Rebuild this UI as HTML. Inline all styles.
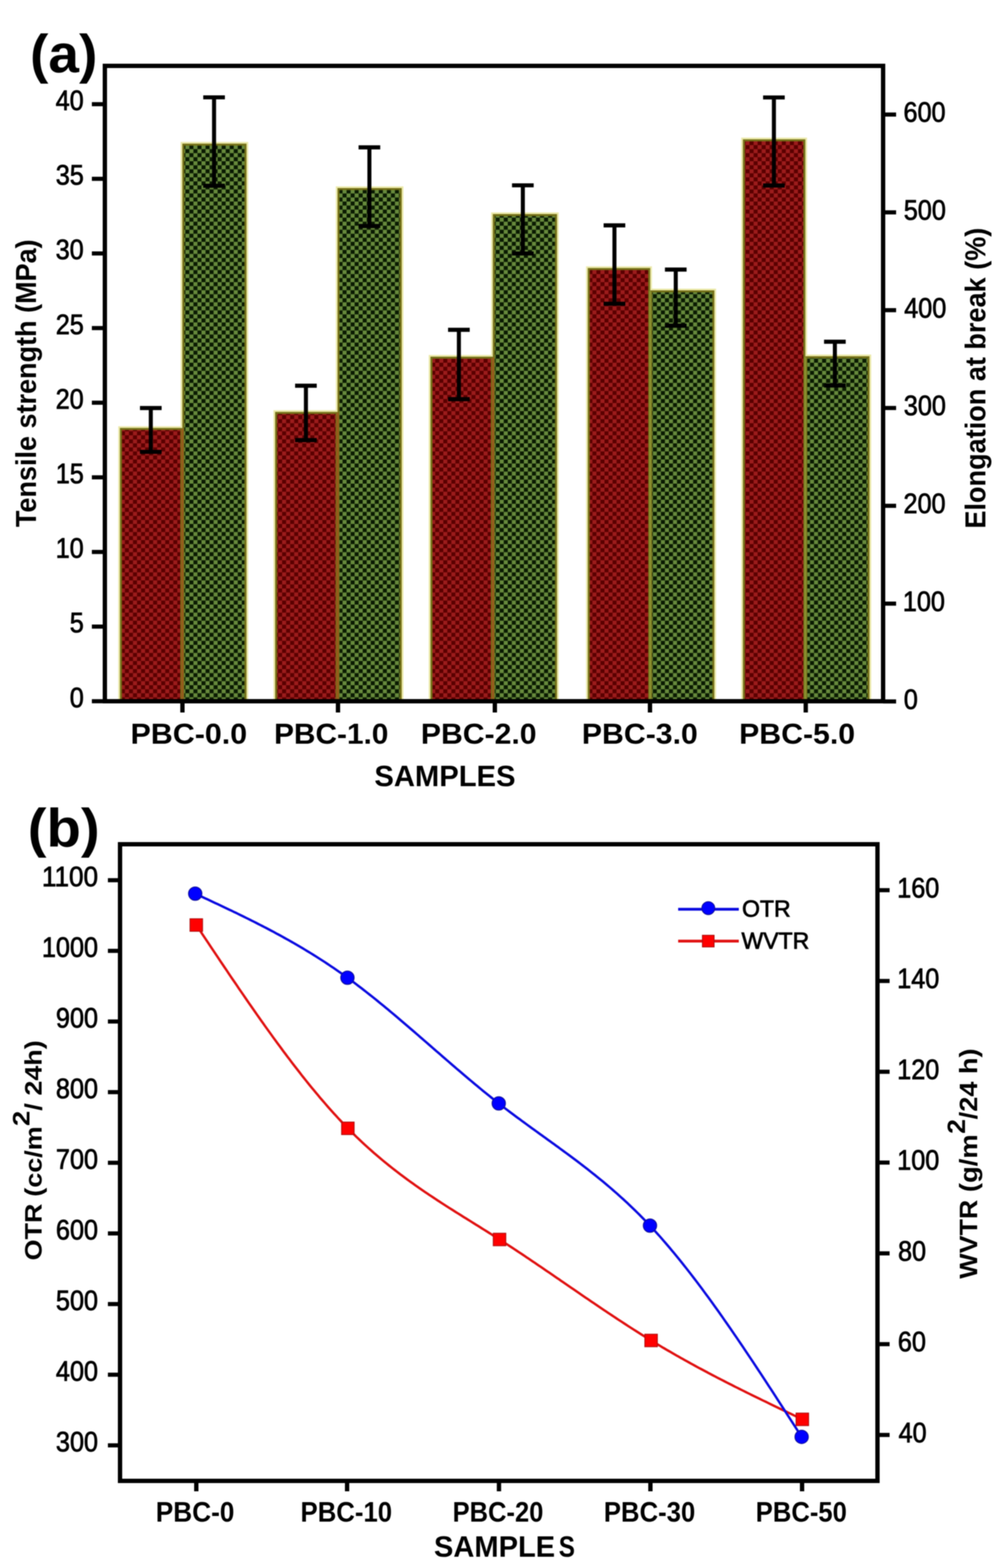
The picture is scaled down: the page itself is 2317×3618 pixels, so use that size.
<!DOCTYPE html><html><head><meta charset="utf-8"><style>html,body{margin:0;padding:0;background:#fff;overflow:hidden}svg{display:block;filter:blur(1.1px)}text{font-family:'Liberation Sans', Arial, sans-serif;fill:#000}</style></head><body>
<svg width="2317" height="3618" viewBox="0 0 2317 3618">
<defs>
<pattern id="pr" patternUnits="userSpaceOnUse" width="18.6" height="18.6"><rect width="18.6" height="18.6" fill="#5a0000"/><rect width="9.3" height="9.3" fill="#9c1c1c"/><rect x="9.3" y="9.3" width="9.3" height="9.3" fill="#9c1c1c"/></pattern>
<pattern id="pg" patternUnits="userSpaceOnUse" width="18.6" height="18.6"><rect width="18.6" height="18.6" fill="#0a1a02"/><rect width="9.3" height="9.3" fill="#678a3c"/><rect x="9.3" y="9.3" width="9.3" height="9.3" fill="#678a3c"/></pattern>
</defs>
<rect width="2317" height="3618" fill="#fff"/>
<rect x="272.8" y="983.5" width="152" height="634.5" fill="#ebe9aa"/>
<rect x="416.8" y="327.5" width="156" height="1290.5" fill="#ebe9aa"/>
<rect x="631" y="946.5" width="152" height="671.5" fill="#ebe9aa"/>
<rect x="775" y="430" width="156" height="1188" fill="#ebe9aa"/>
<rect x="989.4" y="819" width="152" height="799" fill="#ebe9aa"/>
<rect x="1133.4" y="490" width="156" height="1128" fill="#ebe9aa"/>
<rect x="1352.5" y="614.5" width="152" height="1003.5" fill="#ebe9aa"/>
<rect x="1496.5" y="666" width="156" height="952" fill="#ebe9aa"/>
<rect x="1710.5" y="317.5" width="152" height="1300.5" fill="#ebe9aa"/>
<rect x="1854.5" y="818" width="156" height="800" fill="#ebe9aa"/>
<rect x="279.1" y="989.8" width="139.4" height="628.2" fill="url(#pr)" stroke="#747018" stroke-width="4.6"/>
<rect x="423.1" y="333.8" width="143.4" height="1284.2" fill="url(#pg)" stroke="#747018" stroke-width="4.6"/>
<rect x="637.3" y="952.8" width="139.4" height="665.2" fill="url(#pr)" stroke="#747018" stroke-width="4.6"/>
<rect x="781.3" y="436.3" width="143.4" height="1181.7" fill="url(#pg)" stroke="#747018" stroke-width="4.6"/>
<rect x="995.7" y="825.3" width="139.4" height="792.7" fill="url(#pr)" stroke="#747018" stroke-width="4.6"/>
<rect x="1139.7" y="496.3" width="143.4" height="1121.7" fill="url(#pg)" stroke="#747018" stroke-width="4.6"/>
<rect x="1358.8" y="620.8" width="139.4" height="997.2" fill="url(#pr)" stroke="#747018" stroke-width="4.6"/>
<rect x="1502.8" y="672.3" width="143.4" height="945.7" fill="url(#pg)" stroke="#747018" stroke-width="4.6"/>
<rect x="1716.8" y="323.8" width="139.4" height="1294.2" fill="url(#pr)" stroke="#747018" stroke-width="4.6"/>
<rect x="1860.8" y="824.3" width="143.4" height="793.7" fill="url(#pg)" stroke="#747018" stroke-width="4.6"/>
<rect x="418.4" y="989.5" width="4.8" height="628.5" fill="#985a1c"/>
<rect x="776.6" y="952.5" width="4.8" height="665.5" fill="#985a1c"/>
<rect x="1135" y="825" width="4.8" height="793" fill="#985a1c"/>
<rect x="1498.1" y="672" width="4.8" height="946" fill="#8a9030"/>
<rect x="1856.1" y="824" width="4.8" height="794" fill="#8a9030"/>
<path d="M348 941.5V1042.6M323 941.5H373M323 1042.6H373" stroke="#000" stroke-width="9.3" fill="none"/>
<path d="M706 890V1015.5M681 890H731M681 1015.5H731" stroke="#000" stroke-width="9.3" fill="none"/>
<path d="M1059 761V921M1034 761H1084M1034 921H1084" stroke="#000" stroke-width="9.3" fill="none"/>
<path d="M1418 520V700.8M1393 520H1443M1393 700.8H1443" stroke="#000" stroke-width="9.3" fill="none"/>
<path d="M1786 224.8V428M1761 224.8H1811M1761 428H1811" stroke="#000" stroke-width="9.3" fill="none"/>
<path d="M494 224.6V428.6M469 224.6H519M469 428.6H519" stroke="#000" stroke-width="9.3" fill="none"/>
<path d="M852.5 340V521.5M827.5 340H877.5M827.5 521.5H877.5" stroke="#000" stroke-width="9.3" fill="none"/>
<path d="M1206.6 427.6V584.8M1181.6 427.6H1231.6M1181.6 584.8H1231.6" stroke="#000" stroke-width="9.3" fill="none"/>
<path d="M1559.5 622V751.5M1534.5 622H1584.5M1534.5 751.5H1584.5" stroke="#000" stroke-width="9.3" fill="none"/>
<path d="M1926.7 788.5V889.5M1901.7 788.5H1951.7M1901.7 889.5H1951.7" stroke="#000" stroke-width="9.3" fill="none"/>
<rect x="242" y="152" width="1796" height="1466" fill="none" stroke="#000" stroke-width="10"/>
<path d="M212 1618H242" stroke="#000" stroke-width="9.5"/>
<text x="160.88" y="1631.5" font-size="64" textLength="32.39" lengthAdjust="spacingAndGlyphs" stroke="#000" stroke-width="1.6">0</text>
<path d="M212 1445.8H242" stroke="#000" stroke-width="9.5"/>
<text x="161.06" y="1459.3" font-size="64" textLength="32.39" lengthAdjust="spacingAndGlyphs" stroke="#000" stroke-width="1.6">5</text>
<path d="M212 1273.6H242" stroke="#000" stroke-width="9.5"/>
<text x="128.49" y="1287.1" font-size="64" textLength="64.78" lengthAdjust="spacingAndGlyphs" stroke="#000" stroke-width="1.6">10</text>
<path d="M212 1101.4H242" stroke="#000" stroke-width="9.5"/>
<text x="128.66" y="1114.9" font-size="64" textLength="64.78" lengthAdjust="spacingAndGlyphs" stroke="#000" stroke-width="1.6">15</text>
<path d="M212 929.2H242" stroke="#000" stroke-width="9.5"/>
<text x="128.49" y="942.7" font-size="64" textLength="64.78" lengthAdjust="spacingAndGlyphs" stroke="#000" stroke-width="1.6">20</text>
<path d="M212 757H242" stroke="#000" stroke-width="9.5"/>
<text x="128.67" y="770.5" font-size="64" textLength="64.78" lengthAdjust="spacingAndGlyphs" stroke="#000" stroke-width="1.6">25</text>
<path d="M212 584.8H242" stroke="#000" stroke-width="9.5"/>
<text x="128.49" y="598.3" font-size="64" textLength="64.78" lengthAdjust="spacingAndGlyphs" stroke="#000" stroke-width="1.6">30</text>
<path d="M212 412.6H242" stroke="#000" stroke-width="9.5"/>
<text x="128.67" y="426.1" font-size="64" textLength="64.78" lengthAdjust="spacingAndGlyphs" stroke="#000" stroke-width="1.6">35</text>
<path d="M212 240.4H242" stroke="#000" stroke-width="9.5"/>
<text x="128.49" y="253.9" font-size="64" textLength="64.78" lengthAdjust="spacingAndGlyphs" stroke="#000" stroke-width="1.6">40</text>
<path d="M2038 1618.5H2068" stroke="#000" stroke-width="9.5"/>
<text x="2085.72" y="1635.5" font-size="64" textLength="32.39" lengthAdjust="spacingAndGlyphs" stroke="#000" stroke-width="1.6">0</text>
<path d="M2038 1392.8H2068" stroke="#000" stroke-width="9.5"/>
<text x="2083.56" y="1409.8" font-size="64" textLength="97.17" lengthAdjust="spacingAndGlyphs" stroke="#000" stroke-width="1.6">100</text>
<path d="M2038 1167.1H2068" stroke="#000" stroke-width="9.5"/>
<text x="2085.07" y="1184.1" font-size="64" textLength="97.17" lengthAdjust="spacingAndGlyphs" stroke="#000" stroke-width="1.6">200</text>
<path d="M2038 941.4H2068" stroke="#000" stroke-width="9.5"/>
<text x="2085.78" y="958.4" font-size="64" textLength="97.17" lengthAdjust="spacingAndGlyphs" stroke="#000" stroke-width="1.6">300</text>
<path d="M2038 715.7H2068" stroke="#000" stroke-width="9.5"/>
<text x="2086.66" y="732.7" font-size="64" textLength="97.17" lengthAdjust="spacingAndGlyphs" stroke="#000" stroke-width="1.6">400</text>
<path d="M2038 490H2068" stroke="#000" stroke-width="9.5"/>
<text x="2085.67" y="507" font-size="64" textLength="97.17" lengthAdjust="spacingAndGlyphs" stroke="#000" stroke-width="1.6">500</text>
<path d="M2038 264.3H2068" stroke="#000" stroke-width="9.5"/>
<text x="2085.04" y="281.3" font-size="64" textLength="97.17" lengthAdjust="spacingAndGlyphs" stroke="#000" stroke-width="1.6">600</text>
<path d="M421 1618V1644" stroke="#000" stroke-width="10"/>
<path d="M780 1618V1644" stroke="#000" stroke-width="10"/>
<path d="M1142 1618V1644" stroke="#000" stroke-width="10"/>
<path d="M1500 1618V1644" stroke="#000" stroke-width="10"/>
<path d="M1859.5 1618V1644" stroke="#000" stroke-width="10"/>
<text x="301.31" y="1716" font-size="66" font-weight="bold" textLength="269.07" lengthAdjust="spacingAndGlyphs">PBC-0.0</text>
<text x="632.4" y="1716" font-size="66" font-weight="bold" textLength="263.93" lengthAdjust="spacingAndGlyphs">PBC-1.0</text>
<text x="971.34" y="1716" font-size="66" font-weight="bold" textLength="267.01" lengthAdjust="spacingAndGlyphs">PBC-2.0</text>
<text x="1342.83" y="1716" font-size="66" font-weight="bold" textLength="267.53" lengthAdjust="spacingAndGlyphs">PBC-3.0</text>
<text x="1705.83" y="1716" font-size="66" font-weight="bold" textLength="267.53" lengthAdjust="spacingAndGlyphs">PBC-5.0</text>
<text x="864.06" y="1814" font-size="68" font-weight="bold" textLength="325.57" lengthAdjust="spacingAndGlyphs">SAMPLES</text>
<g transform="translate(83 1215.5) rotate(-90)"><text x="-0.7" y="0" font-size="66" font-weight="bold" textLength="663.78" lengthAdjust="spacingAndGlyphs">Tensile strength (MPa)</text></g>
<g transform="translate(2274 1215.5) rotate(-90)"><text x="-4.18" y="0" font-size="66" font-weight="bold" textLength="694.29" lengthAdjust="spacingAndGlyphs">Elongation at break (%)</text></g>
<text x="69.16" y="167" font-size="125" font-weight="bold" textLength="155.69" lengthAdjust="spacingAndGlyphs">(a)</text>
<rect x="277" y="1948" width="1748" height="1469" fill="none" stroke="#000" stroke-width="10"/>
<path d="M249 3335H277" stroke="#000" stroke-width="9.5"/>
<text x="129.1" y="3349" font-size="64" textLength="97.17" lengthAdjust="spacingAndGlyphs" stroke="#000" stroke-width="1.6">300</text>
<path d="M249 3172H277" stroke="#000" stroke-width="9.5"/>
<text x="129.1" y="3186" font-size="64" textLength="97.17" lengthAdjust="spacingAndGlyphs" stroke="#000" stroke-width="1.6">400</text>
<path d="M249 3009H277" stroke="#000" stroke-width="9.5"/>
<text x="129.1" y="3023" font-size="64" textLength="97.17" lengthAdjust="spacingAndGlyphs" stroke="#000" stroke-width="1.6">500</text>
<path d="M249 2846H277" stroke="#000" stroke-width="9.5"/>
<text x="129.1" y="2860" font-size="64" textLength="97.17" lengthAdjust="spacingAndGlyphs" stroke="#000" stroke-width="1.6">600</text>
<path d="M249 2683H277" stroke="#000" stroke-width="9.5"/>
<text x="129.1" y="2697" font-size="64" textLength="97.17" lengthAdjust="spacingAndGlyphs" stroke="#000" stroke-width="1.6">700</text>
<path d="M249 2520H277" stroke="#000" stroke-width="9.5"/>
<text x="129.1" y="2534" font-size="64" textLength="97.17" lengthAdjust="spacingAndGlyphs" stroke="#000" stroke-width="1.6">800</text>
<path d="M249 2357H277" stroke="#000" stroke-width="9.5"/>
<text x="129.1" y="2371" font-size="64" textLength="97.17" lengthAdjust="spacingAndGlyphs" stroke="#000" stroke-width="1.6">900</text>
<path d="M249 2194H277" stroke="#000" stroke-width="9.5"/>
<text x="96.71" y="2208" font-size="64" textLength="129.56" lengthAdjust="spacingAndGlyphs" stroke="#000" stroke-width="1.6">1000</text>
<path d="M249 2031H277" stroke="#000" stroke-width="9.5"/>
<text x="96.71" y="2045" font-size="64" textLength="129.56" lengthAdjust="spacingAndGlyphs" stroke="#000" stroke-width="1.6">1100</text>
<path d="M2025 3311H2053" stroke="#000" stroke-width="9.5"/>
<text x="2073.66" y="3327.5" font-size="64" textLength="64.78" lengthAdjust="spacingAndGlyphs" stroke="#000" stroke-width="1.6">40</text>
<path d="M2025 3101.5H2053" stroke="#000" stroke-width="9.5"/>
<text x="2072.04" y="3118" font-size="64" textLength="64.78" lengthAdjust="spacingAndGlyphs" stroke="#000" stroke-width="1.6">60</text>
<path d="M2025 2892H2053" stroke="#000" stroke-width="9.5"/>
<text x="2072.47" y="2908.5" font-size="64" textLength="64.78" lengthAdjust="spacingAndGlyphs" stroke="#000" stroke-width="1.6">80</text>
<path d="M2025 2682.5H2053" stroke="#000" stroke-width="9.5"/>
<text x="2070.56" y="2699" font-size="64" textLength="97.17" lengthAdjust="spacingAndGlyphs" stroke="#000" stroke-width="1.6">100</text>
<path d="M2025 2473H2053" stroke="#000" stroke-width="9.5"/>
<text x="2070.56" y="2489.5" font-size="64" textLength="97.17" lengthAdjust="spacingAndGlyphs" stroke="#000" stroke-width="1.6">120</text>
<path d="M2025 2263.5H2053" stroke="#000" stroke-width="9.5"/>
<text x="2070.56" y="2280" font-size="64" textLength="97.17" lengthAdjust="spacingAndGlyphs" stroke="#000" stroke-width="1.6">140</text>
<path d="M2025 2054H2053" stroke="#000" stroke-width="9.5"/>
<text x="2070.56" y="2070.5" font-size="64" textLength="97.17" lengthAdjust="spacingAndGlyphs" stroke="#000" stroke-width="1.6">160</text>
<path d="M453 3417V3441" stroke="#000" stroke-width="10"/>
<path d="M801 3417V3441" stroke="#000" stroke-width="10"/>
<path d="M1151.5 3417V3441" stroke="#000" stroke-width="10"/>
<path d="M1501 3417V3441" stroke="#000" stroke-width="10"/>
<path d="M1851 3417V3441" stroke="#000" stroke-width="10"/>
<text x="359.45" y="3511" font-size="64" font-weight="bold" textLength="181.53" lengthAdjust="spacingAndGlyphs">PBC-0</text>
<text x="693.52" y="3511" font-size="64" font-weight="bold" textLength="211.41" lengthAdjust="spacingAndGlyphs">PBC-10</text>
<text x="1044.56" y="3511" font-size="64" font-weight="bold" textLength="209.35" lengthAdjust="spacingAndGlyphs">PBC-20</text>
<text x="1393.53" y="3511" font-size="64" font-weight="bold" textLength="210.9" lengthAdjust="spacingAndGlyphs">PBC-30</text>
<text x="1744.04" y="3511" font-size="64" font-weight="bold" textLength="210.38" lengthAdjust="spacingAndGlyphs">PBC-50</text>
<text x="1001.57" y="3592" font-size="68" font-weight="bold" textLength="279.55" lengthAdjust="spacingAndGlyphs">SAMPLE</text>
<text x="1289.39" y="3592" font-size="68" font-weight="bold" textLength="37.3" lengthAdjust="spacingAndGlyphs">S</text>
<text x="64.03" y="1953" font-size="125" font-weight="bold" textLength="165.95" lengthAdjust="spacingAndGlyphs">(b)</text>
<g transform="translate(96.3 2907) rotate(-90)">
<text x="-1.35" y="0" font-size="56" font-weight="bold" textLength="131.12" lengthAdjust="spacingAndGlyphs">OTR</text>
<text x="145.81" y="0" font-size="56" font-weight="bold" textLength="162.24" lengthAdjust="spacingAndGlyphs">(cc/m</text>
<text x="308.8" y="-28.5" font-size="56" font-weight="bold" textLength="35.23" lengthAdjust="spacingAndGlyphs">2</text>
<text x="344.39" y="0" font-size="56" font-weight="bold" textLength="162.2" lengthAdjust="spacingAndGlyphs">/ 24h)</text>
</g>
<g transform="translate(2255 2952) rotate(-90)">
<text x="1.44" y="0" font-size="58" font-weight="bold" textLength="182.33" lengthAdjust="spacingAndGlyphs">WVTR</text>
<text x="201.35" y="0" font-size="58" font-weight="bold" textLength="133.36" lengthAdjust="spacingAndGlyphs">(g/m</text>
<text x="335.68" y="-28.5" font-size="58" font-weight="bold" textLength="34.08" lengthAdjust="spacingAndGlyphs">2</text>
<text x="369.39" y="0" font-size="58" font-weight="bold" textLength="163.53" lengthAdjust="spacingAndGlyphs">/24 h)</text>
</g>
<path d="M453.0 2134.4 L457.7 2141.4 L462.4 2148.4 L467.0 2155.5 L471.7 2162.5 L476.4 2169.5 L481.1 2176.5 L485.7 2183.5 L490.4 2190.5 L495.1 2197.5 L499.8 2204.5 L504.5 2211.5 L509.1 2218.5 L513.8 2225.4 L518.5 2232.4 L523.2 2239.3 L527.8 2246.2 L532.5 2253.2 L537.2 2260.1 L541.9 2266.9 L546.6 2273.8 L551.2 2280.7 L555.9 2287.5 L560.6 2294.3 L565.3 2301.1 L569.9 2307.9 L574.6 2314.7 L579.3 2321.4 L584.0 2328.1 L588.7 2334.8 L593.3 2341.5 L598.0 2348.2 L602.7 2354.8 L607.4 2361.4 L612.0 2368.0 L616.7 2374.5 L621.4 2381.0 L626.1 2387.5 L630.7 2394.0 L635.4 2400.4 L640.1 2406.8 L644.8 2413.1 L649.5 2419.5 L654.1 2425.8 L658.8 2432.0 L663.5 2438.3 L668.2 2444.4 L672.8 2450.6 L677.5 2456.7 L682.2 2462.8 L686.9 2468.8 L691.6 2474.8 L696.2 2480.8 L700.9 2486.7 L705.6 2492.6 L710.3 2498.4 L714.9 2504.2 L719.6 2509.9 L724.3 2515.6 L729.0 2521.2 L733.7 2526.8 L738.3 2532.4 L743.0 2537.9 L747.7 2543.3 L752.4 2548.7 L757.0 2554.1 L761.7 2559.4 L766.4 2564.6 L771.1 2569.8 L775.8 2574.9 L780.4 2580.0 L785.1 2585.0 L789.8 2590.0 L794.5 2594.9 L799.1 2599.8 L803.8 2604.5 L808.5 2609.3 L813.2 2613.9 L817.9 2618.5 L822.5 2623.1 L827.2 2627.6 L831.9 2632.0 L836.6 2636.4 L841.2 2640.8 L845.9 2645.0 L850.6 2649.3 L855.3 2653.4 L860.0 2657.6 L864.6 2661.7 L869.3 2665.7 L874.0 2669.7 L878.7 2673.6 L883.3 2677.5 L888.0 2681.4 L892.7 2685.2 L897.4 2689.0 L902.0 2692.7 L906.7 2696.4 L911.4 2700.0 L916.1 2703.6 L920.8 2707.2 L925.4 2710.8 L930.1 2714.3 L934.8 2717.8 L939.5 2721.2 L944.1 2724.6 L948.8 2728.0 L953.5 2731.3 L958.2 2734.7 L962.9 2737.9 L967.5 2741.2 L972.2 2744.5 L976.9 2747.7 L981.6 2750.9 L986.2 2754.0 L990.9 2757.2 L995.6 2760.3 L1000.3 2763.4 L1005.0 2766.5 L1009.6 2769.6 L1014.3 2772.6 L1019.0 2775.7 L1023.7 2778.7 L1028.3 2781.7 L1033.0 2784.7 L1037.7 2787.7 L1042.4 2790.6 L1047.1 2793.6 L1051.7 2796.6 L1056.4 2799.5 L1061.1 2802.4 L1065.8 2805.4 L1070.4 2808.3 L1075.1 2811.2 L1079.8 2814.1 L1084.5 2817.0 L1089.2 2820.0 L1093.8 2822.9 L1098.5 2825.8 L1103.2 2828.7 L1107.9 2831.6 L1112.5 2834.6 L1117.2 2837.5 L1121.9 2840.4 L1126.6 2843.4 L1131.3 2846.3 L1135.9 2849.3 L1140.6 2852.2 L1145.3 2855.2 L1150.0 2858.2 L1154.6 2861.2 L1159.3 2864.2 L1164.0 2867.2 L1168.7 2870.3 L1173.3 2873.3 L1178.0 2876.4 L1182.7 2879.4 L1187.4 2882.5 L1192.1 2885.6 L1196.7 2888.7 L1201.4 2891.8 L1206.1 2894.9 L1210.8 2898.1 L1215.4 2901.2 L1220.1 2904.3 L1224.8 2907.5 L1229.5 2910.7 L1234.2 2913.8 L1238.8 2917.0 L1243.5 2920.2 L1248.2 2923.3 L1252.9 2926.5 L1257.5 2929.7 L1262.2 2932.9 L1266.9 2936.1 L1271.6 2939.3 L1276.3 2942.5 L1280.9 2945.7 L1285.6 2948.9 L1290.3 2952.1 L1295.0 2955.4 L1299.6 2958.6 L1304.3 2961.8 L1309.0 2965.0 L1313.7 2968.2 L1318.4 2971.4 L1323.0 2974.6 L1327.7 2977.8 L1332.4 2981.0 L1337.1 2984.3 L1341.7 2987.5 L1346.4 2990.7 L1351.1 2993.9 L1355.8 2997.0 L1360.5 3000.2 L1365.1 3003.4 L1369.8 3006.6 L1374.5 3009.8 L1379.2 3012.9 L1383.8 3016.1 L1388.5 3019.2 L1393.2 3022.4 L1397.9 3025.5 L1402.6 3028.7 L1407.2 3031.8 L1411.9 3034.9 L1416.6 3038.0 L1421.3 3041.1 L1425.9 3044.2 L1430.6 3047.3 L1435.3 3050.3 L1440.0 3053.4 L1444.6 3056.4 L1449.3 3059.5 L1454.0 3062.5 L1458.7 3065.5 L1463.4 3068.5 L1468.0 3071.4 L1472.7 3074.4 L1477.4 3077.4 L1482.1 3080.3 L1486.7 3083.2 L1491.4 3086.1 L1496.1 3089.0 L1500.8 3091.9 L1505.5 3094.7 L1510.1 3097.6 L1514.8 3100.4 L1519.5 3103.2 L1524.2 3106.0 L1528.8 3108.8 L1533.5 3111.5 L1538.2 3114.3 L1542.9 3117.0 L1547.6 3119.7 L1552.2 3122.4 L1556.9 3125.1 L1561.6 3127.8 L1566.3 3130.4 L1570.9 3133.1 L1575.6 3135.7 L1580.3 3138.3 L1585.0 3140.9 L1589.7 3143.5 L1594.3 3146.1 L1599.0 3148.7 L1603.7 3151.2 L1608.4 3153.8 L1613.0 3156.3 L1617.7 3158.8 L1622.4 3161.3 L1627.1 3163.8 L1631.8 3166.3 L1636.4 3168.8 L1641.1 3171.2 L1645.8 3173.7 L1650.5 3176.1 L1655.1 3178.6 L1659.8 3181.0 L1664.5 3183.4 L1669.2 3185.8 L1673.9 3188.2 L1678.5 3190.6 L1683.2 3193.0 L1687.9 3195.3 L1692.6 3197.7 L1697.2 3200.1 L1701.9 3202.4 L1706.6 3204.8 L1711.3 3207.1 L1715.9 3209.4 L1720.6 3211.7 L1725.3 3214.1 L1730.0 3216.4 L1734.7 3218.7 L1739.3 3221.0 L1744.0 3223.3 L1748.7 3225.5 L1753.4 3227.8 L1758.0 3230.1 L1762.7 3232.4 L1767.4 3234.6 L1772.1 3236.9 L1776.8 3239.2 L1781.4 3241.4 L1786.1 3243.7 L1790.8 3245.9 L1795.5 3248.2 L1800.1 3250.4 L1804.8 3252.7 L1809.5 3254.9 L1814.2 3257.1 L1818.9 3259.4 L1823.5 3261.6 L1828.2 3263.8 L1832.9 3266.1 L1837.6 3268.3 L1842.2 3270.5 L1846.9 3272.8 L1851.6 3275.0" fill="none" stroke="#e01010" stroke-width="5.5" stroke-linejoin="round"/>
<path d="M450.5 2062.0 L455.2 2064.2 L459.9 2066.4 L464.5 2068.5 L469.2 2070.7 L473.9 2072.9 L478.6 2075.1 L483.3 2077.3 L487.9 2079.5 L492.6 2081.7 L497.3 2083.9 L502.0 2086.1 L506.7 2088.3 L511.3 2090.5 L516.0 2092.7 L520.7 2094.9 L525.4 2097.2 L530.1 2099.4 L534.8 2101.6 L539.4 2103.9 L544.1 2106.1 L548.8 2108.4 L553.5 2110.7 L558.2 2113.0 L562.8 2115.3 L567.5 2117.6 L572.2 2119.9 L576.9 2122.2 L581.6 2124.6 L586.2 2126.9 L590.9 2129.3 L595.6 2131.7 L600.3 2134.1 L605.0 2136.5 L609.6 2138.9 L614.3 2141.3 L619.0 2143.8 L623.7 2146.3 L628.4 2148.7 L633.0 2151.2 L637.7 2153.8 L642.4 2156.3 L647.1 2158.8 L651.8 2161.4 L656.4 2164.0 L661.1 2166.6 L665.8 2169.2 L670.5 2171.9 L675.2 2174.5 L679.8 2177.2 L684.5 2179.9 L689.2 2182.7 L693.9 2185.4 L698.6 2188.2 L703.3 2191.0 L707.9 2193.8 L712.6 2196.7 L717.3 2199.5 L722.0 2202.4 L726.7 2205.3 L731.3 2208.3 L736.0 2211.3 L740.7 2214.3 L745.4 2217.3 L750.1 2220.3 L754.7 2223.4 L759.4 2226.5 L764.1 2229.7 L768.8 2232.8 L773.5 2236.0 L778.1 2239.2 L782.8 2242.5 L787.5 2245.8 L792.2 2249.1 L796.9 2252.4 L801.5 2255.8 L806.2 2259.2 L810.9 2262.7 L815.6 2266.1 L820.3 2269.6 L824.9 2273.2 L829.6 2276.7 L834.3 2280.3 L839.0 2284.0 L843.7 2287.6 L848.4 2291.3 L853.0 2295.0 L857.7 2298.7 L862.4 2302.4 L867.1 2306.2 L871.8 2310.0 L876.4 2313.8 L881.1 2317.6 L885.8 2321.4 L890.5 2325.3 L895.2 2329.2 L899.8 2333.1 L904.5 2337.0 L909.2 2340.9 L913.9 2344.9 L918.6 2348.8 L923.2 2352.8 L927.9 2356.8 L932.6 2360.8 L937.3 2364.8 L942.0 2368.8 L946.6 2372.8 L951.3 2376.9 L956.0 2380.9 L960.7 2385.0 L965.4 2389.0 L970.0 2393.1 L974.7 2397.1 L979.4 2401.2 L984.1 2405.3 L988.8 2409.4 L993.4 2413.4 L998.1 2417.5 L1002.8 2421.6 L1007.5 2425.7 L1012.2 2429.7 L1016.9 2433.8 L1021.5 2437.9 L1026.2 2441.9 L1030.9 2446.0 L1035.6 2450.0 L1040.3 2454.1 L1044.9 2458.1 L1049.6 2462.1 L1054.3 2466.2 L1059.0 2470.2 L1063.7 2474.2 L1068.3 2478.2 L1073.0 2482.2 L1077.7 2486.1 L1082.4 2490.1 L1087.1 2494.0 L1091.7 2497.9 L1096.4 2501.8 L1101.1 2505.7 L1105.8 2509.6 L1110.5 2513.5 L1115.1 2517.3 L1119.8 2521.1 L1124.5 2524.9 L1129.2 2528.7 L1133.9 2532.5 L1138.5 2536.2 L1143.2 2539.9 L1147.9 2543.6 L1152.6 2547.2 L1157.3 2550.9 L1162.0 2554.5 L1166.6 2558.1 L1171.3 2561.6 L1176.0 2565.2 L1180.7 2568.7 L1185.4 2572.2 L1190.0 2575.7 L1194.7 2579.2 L1199.4 2582.6 L1204.1 2586.1 L1208.8 2589.5 L1213.4 2592.9 L1218.1 2596.4 L1222.8 2599.8 L1227.5 2603.2 L1232.2 2606.5 L1236.8 2609.9 L1241.5 2613.3 L1246.2 2616.7 L1250.9 2620.1 L1255.6 2623.4 L1260.2 2626.8 L1264.9 2630.2 L1269.6 2633.6 L1274.3 2637.0 L1279.0 2640.3 L1283.6 2643.7 L1288.3 2647.1 L1293.0 2650.6 L1297.7 2654.0 L1302.4 2657.4 L1307.1 2660.9 L1311.7 2664.3 L1316.4 2667.8 L1321.1 2671.3 L1325.8 2674.8 L1330.5 2678.3 L1335.1 2681.8 L1339.8 2685.4 L1344.5 2689.0 L1349.2 2692.6 L1353.9 2696.2 L1358.5 2699.9 L1363.2 2703.6 L1367.9 2707.3 L1372.6 2711.0 L1377.3 2714.8 L1381.9 2718.6 L1386.6 2722.4 L1391.3 2726.2 L1396.0 2730.1 L1400.7 2734.1 L1405.3 2738.0 L1410.0 2742.0 L1414.7 2746.1 L1419.4 2750.2 L1424.1 2754.3 L1428.7 2758.5 L1433.4 2762.7 L1438.1 2766.9 L1442.8 2771.2 L1447.5 2775.6 L1452.1 2780.0 L1456.8 2784.4 L1461.5 2788.9 L1466.2 2793.5 L1470.9 2798.1 L1475.6 2802.8 L1480.2 2807.5 L1484.9 2812.2 L1489.6 2817.1 L1494.3 2821.9 L1499.0 2826.9 L1503.6 2831.9 L1508.3 2837.0 L1513.0 2842.1 L1517.7 2847.3 L1522.4 2852.5 L1527.0 2857.8 L1531.7 2863.2 L1536.4 2868.6 L1541.1 2874.1 L1545.8 2879.6 L1550.4 2885.2 L1555.1 2890.8 L1559.8 2896.5 L1564.5 2902.2 L1569.2 2908.0 L1573.8 2913.8 L1578.5 2919.7 L1583.2 2925.6 L1587.9 2931.6 L1592.6 2937.6 L1597.2 2943.7 L1601.9 2949.8 L1606.6 2955.9 L1611.3 2962.1 L1616.0 2968.4 L1620.7 2974.6 L1625.3 2981.0 L1630.0 2987.3 L1634.7 2993.7 L1639.4 3000.1 L1644.1 3006.6 L1648.7 3013.1 L1653.4 3019.7 L1658.1 3026.2 L1662.8 3032.8 L1667.5 3039.5 L1672.1 3046.2 L1676.8 3052.9 L1681.5 3059.6 L1686.2 3066.4 L1690.9 3073.2 L1695.5 3080.0 L1700.2 3086.8 L1704.9 3093.7 L1709.6 3100.6 L1714.3 3107.5 L1718.9 3114.5 L1723.6 3121.5 L1728.3 3128.5 L1733.0 3135.5 L1737.7 3142.5 L1742.3 3149.6 L1747.0 3156.6 L1751.7 3163.7 L1756.4 3170.8 L1761.1 3178.0 L1765.7 3185.1 L1770.4 3192.3 L1775.1 3199.4 L1779.8 3206.6 L1784.5 3213.8 L1789.2 3221.0 L1793.8 3228.2 L1798.5 3235.5 L1803.2 3242.7 L1807.9 3250.0 L1812.6 3257.2 L1817.2 3264.5 L1821.9 3271.7 L1826.6 3279.0 L1831.3 3286.3 L1836.0 3293.6 L1840.6 3300.8 L1845.3 3308.1 L1850.0 3315.4" fill="none" stroke="#0a0ae0" stroke-width="5.5" stroke-linejoin="round"/>
<rect x="438.5" y="2119.9" width="29" height="29" fill="#ff0000" stroke="#b01010" stroke-width="2"/>
<rect x="788.3" y="2589" width="29" height="29" fill="#ff0000" stroke="#b01010" stroke-width="2"/>
<rect x="1138.3" y="2845.5" width="29" height="29" fill="#ff0000" stroke="#b01010" stroke-width="2"/>
<rect x="1488.1" y="3078.5" width="29" height="29" fill="#ff0000" stroke="#b01010" stroke-width="2"/>
<rect x="1837.1" y="3260.5" width="29" height="29" fill="#ff0000" stroke="#b01010" stroke-width="2"/>
<circle cx="450.5" cy="2062" r="15.5" fill="#0000ff" stroke="#10109a" stroke-width="2"/>
<circle cx="801.8" cy="2256" r="15.5" fill="#0000ff" stroke="#10109a" stroke-width="2"/>
<circle cx="1151" cy="2546" r="15.5" fill="#0000ff" stroke="#10109a" stroke-width="2"/>
<circle cx="1500" cy="2828" r="15.5" fill="#0000ff" stroke="#10109a" stroke-width="2"/>
<circle cx="1850" cy="3315.4" r="15.5" fill="#0000ff" stroke="#10109a" stroke-width="2"/>
<path d="M1565 2098H1705" stroke="#0a0ae0" stroke-width="6.5"/>
<circle cx="1634.6" cy="2095.5" r="15" fill="#0000ff" stroke="#10109a" stroke-width="2"/>
<path d="M1565 2171.5H1705" stroke="#e01010" stroke-width="6.5"/>
<rect x="1621" y="2158" width="27" height="27" fill="#ff0000" stroke="#b01010" stroke-width="2"/>
<text x="1712.49" y="2114.5" font-size="54" textLength="111.97" lengthAdjust="spacingAndGlyphs" stroke="#000" stroke-width="1.6">OTR</text>
<text x="1711.27" y="2189" font-size="54" textLength="156.19" lengthAdjust="spacingAndGlyphs" stroke="#000" stroke-width="1.6">WVTR</text>
</svg></body></html>
